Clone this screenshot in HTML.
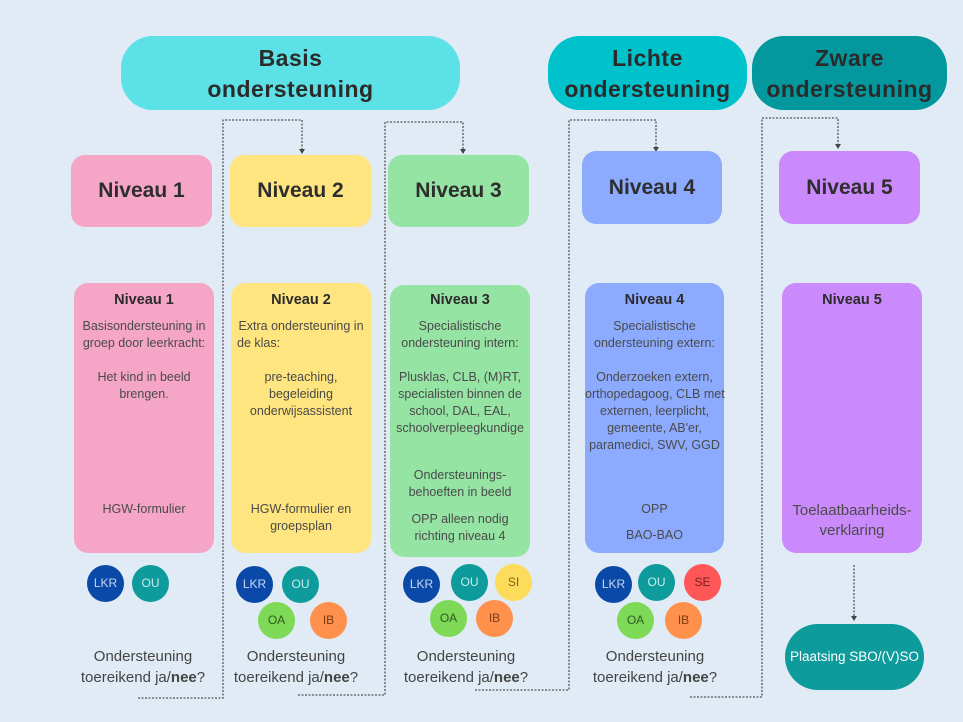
<!DOCTYPE html>
<html><head><meta charset="utf-8"><style>
body{margin:0;width:963px;height:722px;background:#e0ebf5;position:relative;overflow:hidden;font-family:"Liberation Sans",sans-serif;}
.a{position:absolute}
.pill{position:absolute;border-radius:32px;text-align:center;font-weight:bold;font-size:23px;color:#2b2b2b;line-height:31px;box-sizing:border-box;padding-top:7px;letter-spacing:0.5px}
.hd{position:absolute;border-radius:14px;text-align:center;font-weight:bold;font-size:21px;color:#2e2e2e;display:flex;align-items:center;justify-content:center}
.bx{position:absolute;border-radius:14px}
.t{position:absolute;text-align:center;font-size:12.5px;color:#4a4a4a;height:18px;line-height:18px;white-space:nowrap}
.tt{position:absolute;text-align:center;font-size:14.5px;font-weight:bold;color:#2b2b2b;height:18px;line-height:18px}
.b{position:absolute;width:37px;height:37px;border-radius:50%;text-align:center;line-height:37px;font-size:12px}
.q{position:absolute;text-align:center;font-size:15px;color:#444;line-height:21px;white-space:nowrap}
</style></head><body>
<svg class="a" style="left:0;top:0" width="963" height="722">
<g fill="none" stroke="#555" stroke-width="1.3" stroke-dasharray="2,1.5">
<polyline points="138,698 223,698 223,120 302,120 302,150"/>
<polyline points="298,695 385,695 385,122 463,122 463,150"/>
<polyline points="475,690 569,690 569,120 656,120 656,148"/>
<polyline points="690,697 762,697 762,118 838,118 838,145"/>
<polyline points="854,565 854,617"/>
</g>
<g fill="#444">
<polygon points="299,149 305,149 302,154"/><polygon points="460,149 466,149 463,154"/>
<polygon points="653,147 659,147 656,152"/><polygon points="835,144 841,144 838,149"/>
<polygon points="851,616 857,616 854,621"/>
</g>
</svg>
<div class="pill" style="left:121px;top:36px;width:339px;height:74px;background:#5ce1e6">Basis<br>ondersteuning</div>
<div class="pill" style="left:548px;top:36px;width:199px;height:74px;background:#00c2cb">Lichte<br>ondersteuning</div>
<div class="pill" style="left:752px;top:36px;width:195px;height:74px;background:#03989e">Zware<br>ondersteuning</div>

<div class="hd" style="left:71px;top:155px;width:141px;height:72px;background:#f5a6c6">Niveau 1</div>
<div class="hd" style="left:230px;top:155px;width:141px;height:72px;background:#ffe57f">Niveau 2</div>
<div class="hd" style="left:388px;top:155px;width:141px;height:72px;background:#95e4a3">Niveau 3</div>
<div class="hd" style="left:582px;top:151px;width:140px;height:73px;background:#8cabff">Niveau 4</div>
<div class="hd" style="left:779px;top:151px;width:141px;height:73px;background:#cb8afb">Niveau 5</div>

<div class="bx" style="left:74px;top:283px;width:140px;height:270px;background:#f5a6c6"></div>
<div class="bx" style="left:231px;top:283px;width:140px;height:270px;background:#ffe57f"></div>
<div class="bx" style="left:390px;top:285px;width:140px;height:272px;background:#95e4a3"></div>
<div class="bx" style="left:585px;top:283px;width:139px;height:270px;background:#8cabff"></div>
<div class="bx" style="left:782px;top:283px;width:140px;height:270px;background:#cb8afb"></div>

<!-- N1 -->
<div class="tt" style="left:74px;width:140px;top:291px">Niveau 1</div>
<div class="t" style="left:74px;width:140px;top:317px">Basisondersteuning in</div>
<div class="t" style="left:74px;width:140px;top:334px">groep door leerkracht:</div>
<div class="t" style="left:74px;width:140px;top:368px">Het kind in beeld</div>
<div class="t" style="left:74px;width:140px;top:385px">brengen.</div>
<div class="t" style="left:74px;width:140px;top:500px">HGW-formulier</div>
<!-- N2 -->
<div class="tt" style="left:231px;width:140px;top:291px">Niveau 2</div>
<div class="t" style="left:231px;width:140px;top:317px">Extra ondersteuning in</div>
<div class="t" style="left:231px;width:140px;top:334px;text-align:left;padding-left:6px">de klas:</div>
<div class="t" style="left:231px;width:140px;top:368px">pre-teaching,</div>
<div class="t" style="left:231px;width:140px;top:385px">begeleiding</div>
<div class="t" style="left:231px;width:140px;top:402px">onderwijsassistent</div>
<div class="t" style="left:231px;width:140px;top:500px">HGW-formulier en</div>
<div class="t" style="left:231px;width:140px;top:517px">groepsplan</div>
<!-- N3 -->
<div class="tt" style="left:390px;width:140px;top:291px">Niveau 3</div>
<div class="t" style="left:390px;width:140px;top:317px">Specialistische</div>
<div class="t" style="left:390px;width:140px;top:334px">ondersteuning intern:</div>
<div class="t" style="left:390px;width:140px;top:368px">Plusklas, CLB, (M)RT,</div>
<div class="t" style="left:390px;width:140px;top:385px">specialisten binnen de</div>
<div class="t" style="left:390px;width:140px;top:402px">school, DAL, EAL,</div>
<div class="t" style="left:390px;width:140px;top:419px">schoolverpleegkundige</div>
<div class="t" style="left:390px;width:140px;top:466px">Ondersteunings-</div>
<div class="t" style="left:390px;width:140px;top:483px">behoeften in beeld</div>
<div class="t" style="left:390px;width:140px;top:510px">OPP alleen nodig</div>
<div class="t" style="left:390px;width:140px;top:527px">richting niveau 4</div>
<!-- N4 -->
<div class="tt" style="left:585px;width:139px;top:291px">Niveau 4</div>
<div class="t" style="left:585px;width:139px;top:317px">Specialistische</div>
<div class="t" style="left:585px;width:139px;top:334px">ondersteuning extern:</div>
<div class="t" style="left:585px;width:139px;top:368px">Onderzoeken extern,</div>
<div class="t" style="left:585px;width:139px;top:385px">orthopedagoog, CLB met</div>
<div class="t" style="left:585px;width:139px;top:402px">externen, leerplicht,</div>
<div class="t" style="left:585px;width:139px;top:419px">gemeente, AB'er,</div>
<div class="t" style="left:585px;width:139px;top:436px">paramedici, SWV, GGD</div>
<div class="t" style="left:585px;width:139px;top:500px">OPP</div>
<div class="t" style="left:585px;width:139px;top:526px">BAO-BAO</div>
<!-- N5 -->
<div class="tt" style="left:782px;width:140px;top:291px">Niveau 5</div>
<div class="t" style="left:782px;width:140px;top:501px;font-size:15px;height:20px;line-height:20px">Toelaatbaarheids-</div>
<div class="t" style="left:782px;width:140px;top:521px;font-size:15px;height:20px;line-height:20px">verklaring</div>

<!-- badges -->
<div class="b" style="left:87px;top:565px;background:#0b49a8;color:#c8d6f0">LKR</div>
<div class="b" style="left:132px;top:565px;background:#0d9b9b;color:#c8eeee">OU</div>
<div class="b" style="left:236px;top:566px;background:#0b49a8;color:#c8d6f0">LKR</div>
<div class="b" style="left:282px;top:566px;background:#0d9b9b;color:#c8eeee">OU</div>
<div class="b" style="left:258px;top:602px;background:#7ed957;color:#2f5a22">OA</div>
<div class="b" style="left:310px;top:602px;background:#ff914d;color:#7a3a12">IB</div>
<div class="b" style="left:403px;top:566px;background:#0b49a8;color:#c8d6f0">LKR</div>
<div class="b" style="left:451px;top:564px;background:#0d9b9b;color:#c8eeee">OU</div>
<div class="b" style="left:495px;top:564px;background:#fddc5c;color:#7a6512">SI</div>
<div class="b" style="left:430px;top:600px;background:#7ed957;color:#2f5a22">OA</div>
<div class="b" style="left:476px;top:600px;background:#ff914d;color:#7a3a12">IB</div>
<div class="b" style="left:595px;top:566px;background:#0b49a8;color:#c8d6f0">LKR</div>
<div class="b" style="left:638px;top:564px;background:#0d9b9b;color:#c8eeee">OU</div>
<div class="b" style="left:684px;top:564px;background:#ff5757;color:#7a1e1e">SE</div>
<div class="b" style="left:617px;top:602px;background:#7ed957;color:#2f5a22">OA</div>
<div class="b" style="left:665px;top:602px;background:#ff914d;color:#7a3a12">IB</div>

<div class="q" style="left:73px;width:140px;top:646px">Ondersteuning<br>toereikend ja/<b>nee</b>?</div>
<div class="q" style="left:226px;width:140px;top:646px">Ondersteuning<br>toereikend ja/<b>nee</b>?</div>
<div class="q" style="left:396px;width:140px;top:646px">Ondersteuning<br>toereikend ja/<b>nee</b>?</div>
<div class="q" style="left:585px;width:140px;top:646px">Ondersteuning<br>toereikend ja/<b>nee</b>?</div>

<div class="a" style="left:785px;top:624px;width:139px;height:66px;border-radius:33px;background:#0e9b9b;color:#fff;font-size:13.5px;text-align:center;line-height:66px">Plaatsing SBO/(V)SO</div>
</body></html>
